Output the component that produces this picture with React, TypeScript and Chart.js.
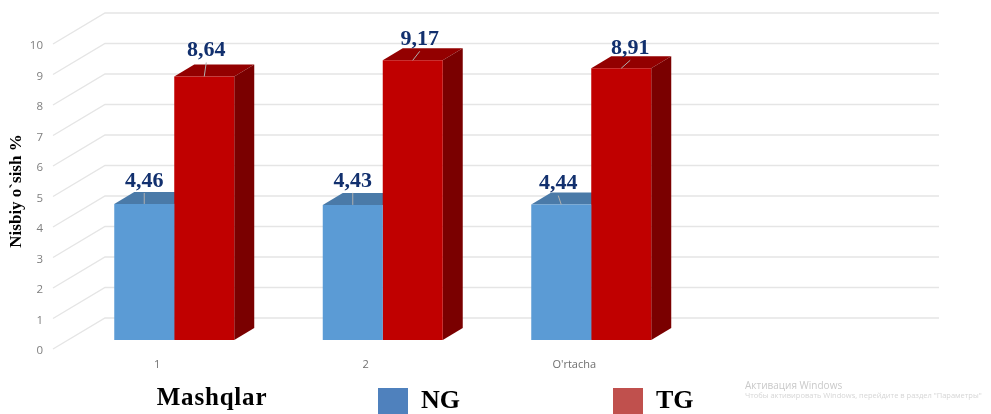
import React, { useEffect, useRef } from "react";
import { Chart, registerables } from "chart.js";

Chart.register(...registerables);

const categories = ["1", "2", "O'rtacha", ""];
const ngValues = [4.46, 4.43, 4.44, null];
const tgValues = [8.64, 9.17, 8.91, null];
const yTicksMax = 10;

const SERIF = "'Liberation Serif', 'Times New Roman', serif";
const SANS = "'Open Sans', sans-serif";

// drawing constants (depth of the 3D wall, depth of the bars, label nudges)
const WALL_DX = 52;
const WALL_DY = -31;
const BAR_SHIFT_X = 17;
const BAR_SHIFT_Y = -9;
const BAR_DX = 20;
const BAR_DY = -12;
const Y_LABEL_SHIFT = 2;
const ngLabelNudge = [[0, -23], [0, -24], [-3, -21]];
const tgLabelNudge = [[2, -26], [7, -21], [9, -20]];
const faceColors = [
  { top: "#4a7aa8", side: "#3f6a94" },
  { top: "#930000", side: "#7a0000" },
];

const wallPlugin = {
  id: "wall",
  afterLayout(chart: any) {
    const lg = chart.legend;
    const pad = lg.options.labels.padding;
    lg.left = 378 - pad;
    lg.right = 991;
    lg.top = 388 - pad;
    lg.bottom = 414;
    const yScale = chart.scales.y;
    const drawLabels = yScale.drawLabels.bind(yScale);
    yScale.drawLabels = (area: any) => {
      chart.ctx.save();
      chart.ctx.translate(0, Y_LABEL_SHIFT);
      drawLabels(area);
      chart.ctx.restore();
    };
  },
  beforeDatasetsDraw(chart: any) {
    const { ctx, chartArea, scales } = chart;
    ctx.save();
    ctx.strokeStyle = "#e5e5e5";
    ctx.lineWidth = 1.4;
    scales.y.ticks.forEach((t: any) => {
      const y = scales.y.getPixelForValue(t.value);
      ctx.beginPath();
      ctx.moveTo(chartArea.left, y);
      ctx.lineTo(chartArea.left + WALL_DX, y + WALL_DY);
      ctx.lineTo(chartArea.right + WALL_DX, y + WALL_DY);
      ctx.stroke();
    });
    ctx.translate(BAR_SHIFT_X, BAR_SHIFT_Y);
    // depth faces: series by series, so the red front hides the blue side
    [0, 1].forEach((ds) => {
      const c = faceColors[ds];
      chart.getDatasetMeta(ds).data.forEach((b: any, i: number) => {
        if (chart.data.datasets[ds].data[i] == null) return;
        const l = b.x - b.width / 2;
        const r = b.x + b.width / 2;
        ctx.fillStyle = c.top;
        ctx.beginPath();
        ctx.moveTo(l, b.y);
        ctx.lineTo(l + BAR_DX, b.y + BAR_DY);
        ctx.lineTo(r + BAR_DX, b.y + BAR_DY);
        ctx.lineTo(r, b.y);
        ctx.closePath();
        ctx.fill();
        ctx.fillStyle = c.side;
        ctx.beginPath();
        ctx.moveTo(r, b.y);
        ctx.lineTo(r + BAR_DX, b.y + BAR_DY);
        ctx.lineTo(r + BAR_DX, b.base + BAR_DY);
        ctx.lineTo(r, b.base);
        ctx.closePath();
        ctx.fill();
      });
    });
    ctx.restore();
  },
  beforeDatasetDraw(chart: any) {
    chart.ctx.save();
    chart.ctx.translate(BAR_SHIFT_X, BAR_SHIFT_Y);
  },
  afterDatasetDraw(chart: any) {
    chart.ctx.restore();
  },
  afterDatasetsDraw(chart: any) {
    const { ctx } = chart;
    const nudges = [ngLabelNudge, tgLabelNudge];
    ctx.save();
    [0, 1].forEach((ds) => {
      const meta = chart.getDatasetMeta(ds);
      meta.data.forEach((b: any, i: number) => {
        const v = chart.data.datasets[ds].data[i];
        if (v == null) return;
        const [nx, ny] = nudges[ds][i];
        const bx = b.x + BAR_SHIFT_X;
        const by = b.y + BAR_SHIFT_Y;
        ctx.strokeStyle = "#b0b0b0";
        ctx.lineWidth = 1;
        ctx.beginPath();
        ctx.moveTo(bx, by);
        ctx.lineTo(bx + nx, by + ny + 12);
        ctx.stroke();
        ctx.fillStyle = "#12306e";
        ctx.font = `bold 22px ${SERIF}`;
        ctx.textAlign = "center";
        ctx.textBaseline = "middle";
        ctx.fillText(v.toFixed(2).replace(".", ","), bx + nx, by + ny);
      });
    });

    // axis titles
    ctx.fillStyle = "#000";
    ctx.textAlign = "center";
    ctx.textBaseline = "middle";
    ctx.font = `bold 17px ${SERIF}`;
    ctx.save();
    ctx.translate(17, 191);
    ctx.rotate(-Math.PI / 2);
    ctx.fillText("Nisbiy o`sish %", 0, 0);
    ctx.restore();
    ctx.font = `bold 25px ${SERIF}`;
    (ctx as any).letterSpacing = "0.8px";
    ctx.fillText("Mashqlar", 212, 399);
    (ctx as any).letterSpacing = "0px";

    // watermark present in the screenshot
    ctx.textAlign = "left";
    ctx.fillStyle = "#c9c9c9";
    ctx.font = `10px ${SANS}`;
    ctx.fillText("Активация Windows", 745, 386);
    ctx.fillStyle = "#d6d6d6";
    ctx.font = `7.5px ${SANS}`;
    ctx.fillText('Чтобы активировать Windows, перейдите в раздел "Параметры"', 745, 396);
    ctx.restore();
  },
};

export default function App() {
  const ref = useRef<HTMLCanvasElement>(null);
  useEffect(() => {
    const chart = new Chart(ref.current as any, {
      type: "bar",
      data: {
        labels: categories,
        datasets: [
          { label: "NG", data: ngValues, backgroundColor: "#5b9bd5", clip: false },
          { label: "TG", data: tgValues, backgroundColor: "#c00000", clip: false },
        ],
      } as any,
      options: {
        responsive: false,
        animation: false,
        layout: { padding: { top: 44, right: 104, left: 0, bottom: 0 } },
        datasets: { bar: { barPercentage: 1, categoryPercentage: 0.5755, borderWidth: 0 } },
        scales: {
          x: {
            grid: { display: false, drawTicks: false },
            border: { display: false },
            ticks: {
              autoSkip: false,
              maxRotation: 0,
              padding: 9,
              color: "#6f6f6f",
              font: { family: "'Open Sans', sans-serif", size: 11 },
            },
            afterFit(s: any) {
              s.height = 64;
            },
          },
          y: {
            min: 0,
            max: yTicksMax,
            grid: { display: false, drawTicks: false },
            border: { display: false },
            ticks: {
              stepSize: 1,
              padding: 10,
              color: "#7f7f7f",
              font: { family: "'Open Sans', sans-serif", size: 11.5 },
            },
            afterFit(s: any) {
              s.width = 53;
            },
          },
        },
        plugins: {
          title: { display: false },
          tooltip: { enabled: false },
          legend: {
            display: true,
            position: "bottom",
            align: "start",
            maxHeight: 1,
            labels: {
              boxWidth: 30,
              boxHeight: 26,
              padding: 153,
              color: "#000",
              font: { family: SERIF, size: 26, weight: "bold" },
              generateLabels: () => [
                { text: "NG", fillStyle: "#4f81bd", strokeStyle: "#4f81bd", lineWidth: 0, datasetIndex: 0 },
                { text: "TG", fillStyle: "#c0504d", strokeStyle: "#c0504d", lineWidth: 0, datasetIndex: 1 },
              ],
            },
          },
        },
      } as any,
      plugins: [wallPlugin],
    });
    return () => chart.destroy();
  }, []);
  return (
    <div style={{ position: "absolute", left: 0, top: 0, width: 991, height: 414, background: "#fff" }}>
      <canvas ref={ref} width={991} height={414} style={{ display: "block" }} />
    </div>
  );
}
